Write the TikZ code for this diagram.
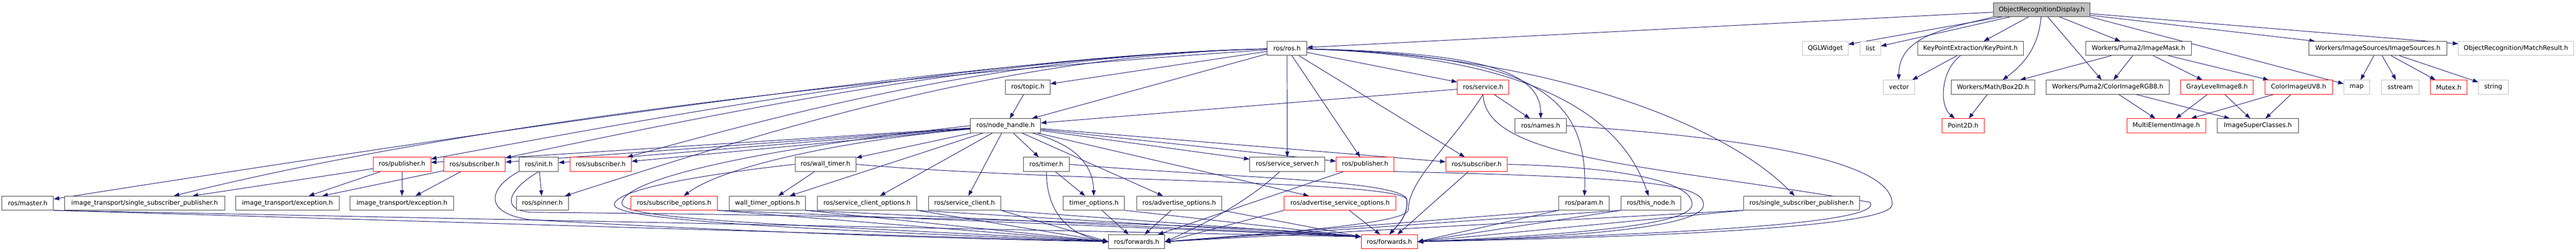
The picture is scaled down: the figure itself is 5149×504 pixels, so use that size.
\documentclass[tikz,border=0pt]{standalone}
\usepackage{fontspec}
\setmainfont{DejaVu Sans}
\usetikzlibrary{arrows.meta}
\definecolor{edgeblue}{HTML}{191970}
\definecolor{boxgray}{HTML}{404040}
\definecolor{extgray}{HTML}{BFBFBF}
\pgfdeclarelayer{background}
\pgfsetlayers{background,main}

\begin{document}
\begin{tikzpicture}[
  x=1pt, y=1pt,
  hdr/.style={draw=boxgray, fill=white, line width=1pt, minimum height=28pt, inner sep=0pt, font=\fontsize{12.6}{15}\selectfont},
  hdrred/.style={hdr, draw=red},
  hdrext/.style={hdr, draw=extgray},
  inc/.style={draw=edgeblue, line width=1pt, -{Triangle[length=11pt,width=8pt]}}
]
\useasboundingbox (0,0) rectangle (5149,-504);

% row 0
\node[hdr, fill=extgray, minimum width=192pt, minimum height=27.5pt] (ord) at (4081,-19.5) {ObjectRecognitionDisplay.h};

% row 1
\node[hdr, minimum width=79pt] (ros) at (2572.5,-97) {ros/ros.h};
\node[hdrext, minimum width=91pt] (qgl) at (3648.5,-97) {QGLWidget};
\node[hdrext, minimum width=41pt] (lst) at (3738.5,-97) {list};
\node[hdr, minimum width=211pt] (keypoint) at (3938.5,-97) {KeyPointExtraction/KeyPoint.h};
\node[hdr, minimum width=211pt] (mask) at (4274.5,-97) {Workers/Puma2/ImageMask.h};
\node[hdr, minimum width=276pt] (sources) at (4753,-97) {Workers/ImageSources/ImageSources.h};
\node[hdrext, minimum width=230pt] (match) at (5029,-97) {ObjectRecognition/MatchResult.h};

% row 2
\node[hdr, minimum width=89pt] (topic) at (2054.5,-174.5) {ros/topic.h};
\node[hdrred, minimum width=103pt] (service) at (2964.5,-174.5) {ros/service.h};
\node[hdrext, minimum width=63pt] (vector) at (3795.5,-174.5) {vector};
\node[hdr, minimum width=167pt] (box2d) at (3983.5,-174.5) {Workers/Math/Box2D.h};
\node[hdr, minimum width=246pt] (rgb8) at (4213,-174.5) {Workers/Puma2/ColorImageRGB8.h};
\node[hdrred, minimum width=145pt] (gray8) at (4431.5,-174.5) {GrayLevelImage8.h};
\node[hdrred, minimum width=135pt] (uv8) at (4594.5,-174.5) {ColorImageUV8.h};
\node[hdrext, minimum width=51pt] (map) at (4710.5,-174.5) {map};
\node[hdrext, minimum width=75pt] (sstream) at (4797.5,-174.5) {sstream};
\node[hdrred, minimum width=73pt] (mutex) at (4894.5,-174.5) {Mutex.h};
\node[hdrext, minimum width=59pt] (str) at (4983.5,-174.5) {string};

% row 3
\node[hdr, minimum width=140pt] (nodeh) at (2010,-251.7) {ros/node\_handle.h};
\node[hdr, minimum width=103pt] (names) at (3079.5,-251.7) {ros/names.h};
\node[hdrred, minimum width=84pt] (point2d) at (3924,-251.7) {Point2D.h};
\node[hdrred, minimum width=158pt] (multi) at (4330,-251.7) {MultiElementImage.h};
\node[hdr, minimum width=162pt] (super) at (4513,-251.7) {ImageSuperClasses.h};

% row 4
\node[hdrred, minimum width=115pt] (pubA) at (803.5,-329) {ros/publisher.h};
\node[hdrred, minimum width=123pt] (subA) at (948.5,-329) {ros/subscriber.h};
\node[hdr, minimum width=78pt] (init) at (1077,-329) {ros/init.h};
\node[hdrred, minimum width=123pt] (subB) at (1200.5,-329) {ros/subscriber.h};
\node[hdr, minimum width=122pt] (walltimer) at (1650,-329) {ros/wall\_timer.h};
\node[hdr, minimum width=91pt] (timer) at (2091.5,-329) {ros/timer.h};
\node[hdr, minimum width=150pt] (srvserver) at (2573,-329) {ros/service\_server.h};
\node[hdrred, minimum width=115pt] (pubB) at (2728.5,-329) {ros/publisher.h};
\node[hdrred, minimum width=123pt] (subC) at (2951.5,-329) {ros/subscriber.h};

% row 5
\node[hdr, minimum width=103pt] (master) at (55.5,-406.7) {ros/master.h};
\node[hdr, minimum width=320pt] (itssp) at (289,-406.7) {image\_transport/single\_subscriber\_publisher.h};
\node[hdr, minimum width=207pt] (excA) at (574.5,-406.7) {image\_transport/exception.h};
\node[hdr, minimum width=207pt] (excB) at (803.5,-406.7) {image\_transport/exception.h};
\node[hdr, minimum width=104pt] (spinner) at (1084,-406.7) {ros/spinner.h};
\node[hdrred, minimum width=173pt] (subopts) at (1347.5,-406.7) {ros/subscribe\_options.h};
\node[hdr, minimum width=152pt] (wtopts) at (1534,-406.7) {wall\_timer\_options.h};
\node[hdr, minimum width=198pt] (scopts) at (1733,-406.7) {ros/service\_client\_options.h};
\node[hdr, minimum width=144pt] (sclient) at (1928,-406.7) {ros/service\_client.h};
\node[hdr, minimum width=123pt] (topts) at (2186.5,-406.7) {timer\_options.h};
\node[hdr, minimum width=170pt] (advopts) at (2357,-406.7) {ros/advertise\_options.h};
\node[hdrred, minimum width=223pt] (advsrv) at (2678.5,-406.7) {ros/advertise\_service\_options.h};
\node[hdr, minimum width=101pt] (param) at (3166.5,-406.7) {ros/param.h};
\node[hdr, minimum width=120pt] (thisnode) at (3300,-406.7) {ros/this\_node.h};
\node[hdr, minimum width=232pt] (rosssp) at (3601,-406.7) {ros/single\_subscriber\_publisher.h};

% row 6
\node[hdr, minimum width=112pt] (fwdA) at (2272,-484) {ros/forwards.h};
\node[hdrred, minimum width=112pt] (fwdB) at (2777,-484) {ros/forwards.h};

\coordinate (gapB) at (2812,-400);

\begin{pgfonlayer}{background}
% ObjectRecognitionDisplay.h
\draw[inc] (ord) -- (ros);
\draw[inc] (ord) -- (qgl);
\draw[inc] (ord) -- (lst);
\draw[inc] (ord.south west) .. controls (3895,-57) and (3795,-70) .. (vector);
\draw[inc] (ord) -- (keypoint);
\draw[inc] (ord) .. controls (4075,-90) and (4050,-125) .. (box2d);
\draw[inc] (ord) -- (rgb8);
\draw[inc] (ord) -- (mask);
\draw[inc] (ord) -- (sources);
\draw[inc] (ord) -- (match);
\draw[inc] (ord.south east) -- (map);

% KeyPoint.h, Box2D.h, ImageMask.h
\draw[inc] (keypoint) -- (vector);
\draw[inc] (keypoint) .. controls (3880,-140) and (3875,-210) .. (point2d);
\draw[inc] (box2d) -- (point2d);
\draw[inc] (mask) -- (box2d);
\draw[inc] (mask) -- (rgb8);
\draw[inc] (mask) -- (gray8);
\draw[inc] (mask) -- (uv8);
\draw[inc] (rgb8) -- (multi);
\draw[inc] (rgb8) -- (super);
\draw[inc] (gray8) -- (multi);
\draw[inc] (gray8) -- (super);
\draw[inc] (uv8) -- (multi);
\draw[inc] (uv8) -- (super);

% ImageSources.h
\draw[inc] (sources) -- (map);
\draw[inc] (sources) -- (sstream);
\draw[inc] (sources) -- (mutex);
\draw[inc] (sources) -- (str);

% ros.h
\draw[inc] (ros) .. controls (2000,-110) and (959,-265) .. (master);
\draw[inc] (ros) .. controls (1500,-170) and (800,-280) .. (itssp);
\draw[inc] (ros) .. controls (2000,-110) and (1373,-223) .. (pubA);
\draw[inc] (ros) .. controls (2000,-110) and (1453,-223) .. (subA);
\draw[inc] (ros) .. controls (2000,-110) and (1590,-223) .. (subB);
\draw[inc] (ros) .. controls (2000,-110) and (1525,-266) .. (spinner);
\draw[inc] (ros) -- (topic);
\draw[inc] (ros) -- (nodeh);
\draw[inc] (ros) -- (service);
\draw[inc] (ros) -- (srvserver);
\draw[inc] (ros) -- (pubB);
\draw[inc] (ros) -- (subC);
\draw[inc] (ros) .. controls (2950,-105) and (3080,-140) .. (names);
\draw[inc] (ros) .. controls (3050,-110) and (3175,-180) .. (param);
\draw[inc] (ros) .. controls (3000,-110) and (3230,-200) .. (thisnode);
\draw[inc] (ros) .. controls (3100,-110) and (3450,-250) .. (rosssp);

% topic.h, service.h, names.h
\draw[inc] (topic) -- (nodeh);
\draw[inc] (service) -- (nodeh);
\draw[inc] (service) -- (names);
\draw[inc] (service.south) .. controls (2900,-290) and (2815,-360) .. (2815,-420) .. controls (2815,-450) and (2500,-470) .. (fwdA.east);
\draw[inc] (service.south) .. controls (2968,-320) and (3300,-330) .. (3738,-405) .. controls (3770,-450) and (3300,-470) .. (fwdB.east);
\draw[inc] (names.east) .. controls (3550,-280) and (3785,-330) .. (3782,-410) .. controls (3780,-455) and (3300,-475) .. (fwdB.east);

% node_handle.h
\draw[inc] (nodeh) -- (pubA);
\draw[inc] (nodeh) -- (subA);
\draw[inc] (nodeh) -- (init);
\draw[inc] (nodeh) -- (subB);
\draw[inc] (nodeh) -- (walltimer);
\draw[inc] (nodeh) .. controls (1700,-280) and (1450,-330) .. (subopts);
\draw[inc] (nodeh) -- (wtopts);
\draw[inc] (nodeh) -- (scopts);
\draw[inc] (nodeh) -- (sclient);
\draw[inc] (nodeh) -- (timer);
\draw[inc] (nodeh) .. controls (2150,-290) and (2185,-330) .. (topts);
\draw[inc] (nodeh) -- (advopts);
\draw[inc] (nodeh) -- (srvserver);
\draw[inc] (nodeh) -- (pubB);
\draw[inc] (nodeh) -- (subC);
\draw[inc] (nodeh) -- (advsrv);
\draw[inc] (nodeh.west) .. controls (1500,-300) and (1245,-360) .. (1243,-407) .. controls (1241,-445) and (1700,-452) .. (fwdA.west);

% image_transport side
\draw[inc] (pubA) -- (itssp);
\draw[inc] (pubA) -- (excA);
\draw[inc] (pubA) -- (excB);
\draw[inc] (subA) -- (excA);
\draw[inc] (subA) -- (excB);
\draw[inc] (init) -- (spinner);

% timers
\draw[inc] (walltimer) -- (wtopts);
\draw[inc] (timer) -- (topts);
\draw[inc] (walltimer.west) .. controls (1400,-350) and (1228,-380) .. (1228,-410) .. controls (1228,-445) and (1700,-462) .. (fwdA.west);
\draw[inc] (walltimer.east) .. controls (2109,-364) and (2805,-361) .. (gapB) .. controls (2815,-430) and (2795,-450) .. (fwdB.north);
\draw[inc] (timer.east) .. controls (2436,-355) and (2808,-360) .. (gapB) .. controls (2815,-430) and (2795,-450) .. (fwdB.north);
\draw[inc] (timer.south) .. controls (2092,-420) and (2130,-470) .. (fwdA.west);

% ros/init.h
\draw[inc] (init.south west) .. controls (985,-370) and (955,-425) .. (1060,-440) .. controls (1500,-465) and (1900,-478) .. (fwdA.west);
\draw[inc] (init.south) .. controls (1015,-380) and (1000,-420) .. (1060,-425) .. controls (1800,-432) and (2500,-450) .. (fwdB.170);

% into ros/forwards.h from the left
\draw[inc] (master.south east) -- (fwdA.west);
\draw[inc] (master.south east) -- (fwdB.170);
\draw[inc] (subopts.south east) -- (fwdA.west);
\draw[inc] (subopts.south east) -- (fwdB.170);
\draw[inc] (wtopts.south east) -- (fwdA.west);
\draw[inc] (wtopts.south east) -- (fwdB.170);
\draw[inc] (scopts.south east) -- (fwdA.west);
\draw[inc] (scopts.south east) -- (fwdB.170);
\draw[inc] (sclient.south east) -- (fwdA.west);
\draw[inc] (sclient.south east) -- (fwdB.170);
\draw[inc] (topts) -- (fwdA);
\draw[inc] (topts.south east) -- (fwdB.170);
\draw[inc] (advopts) -- (fwdA);
\draw[inc] (advopts.south east) -- (fwdB.170);

% into ros/forwards.h from the right
\draw[inc] (srvserver) .. controls (2520,-380) and (2450,-430) .. (fwdA.east);
\draw[inc] (pubB) -- (fwdA);
\draw[inc] (pubB.south east) .. controls (3300,-355) and (3405,-370) .. (3405,-410) .. controls (3405,-455) and (3150,-475) .. (fwdB.east);
\draw[inc] (subC) -- (fwdB);
\draw[inc] (subC.east) .. controls (3250,-335) and (3385,-365) .. (3382,-410) .. controls (3380,-450) and (3150,-470) .. (fwdB.east);
\draw[inc] (advsrv.south west) -- (fwdA.east);
\draw[inc] (advsrv) -- (fwdB);
\draw[inc] (param.south west) -- (fwdA.east);
\draw[inc] (param.south west) -- (fwdB.east);
\draw[inc] (thisnode.south west) -- (fwdA.east);
\draw[inc] (thisnode.south west) -- (fwdB.east);
\draw[inc] (rosssp.south west) -- (fwdA.east);
\draw[inc] (rosssp.south west) -- (fwdB.east);
\end{pgfonlayer}

\end{tikzpicture}
\end{document}
